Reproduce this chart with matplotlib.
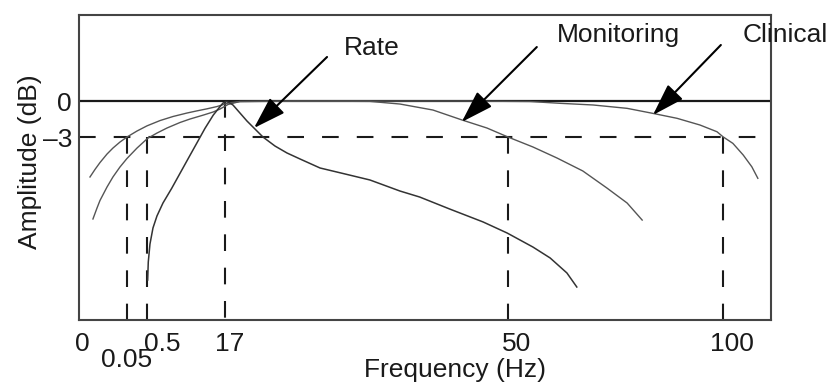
import numpy as np
import matplotlib
matplotlib.use("Agg")
import matplotlib.pyplot as plt

plt.rcParams['font.family'] = ['Liberation Sans', 'DejaVu Sans']
plt.rcParams['lines.scale_dashes'] = False

# schematic (non-linear) frequency axis: Hz -> position
freq_knots = [-1, 0, 0.05, 0.5, 17, 50, 100, 200]
pos_knots = [-818, 82, 127, 147.5, 225, 508, 723, 1153]

# filter responses (Hz, dB)
clinical_f = [0.0089, 0.0144, 0.02, 0.0278, 0.0344, 0.0422, 0.05, 0.27, 0.489,
              3.16, 5.93, 8.91, 11.04, 13.17, 15.3, 16.36, 17.35, 18.75, 30, 45,
              55.1, 62.1, 69.8, 77.7, 83.7, 89.3, 94.65, 98.6, 100, 102.3, 104.7,
              106.7, 108.1]
clinical_db = [-6.33, -5.71, -5.13, -4.42, -3.92, -3.42, -3.0, -2.5, -2.07,
               -1.63, -1.29, -1.0, -0.82, -0.65, -0.46, -0.33, -0.17, -0.04, 0, 0,
               -0.04, -0.19, -0.33, -0.61, -1.03, -1.44, -2.0, -2.56, -2.98, -3.53, -4.5,
               -5.48, -6.44]

monitoring_f = [0.0122, 0.0167, 0.02, 0.0278, 0.0344, 0.0422, 0.05, 0.27, 0.5,
                2.52, 4.65, 7.42, 9.55, 12.32, 14.44, 15.93, 17.35, 18.75, 25, 33.9,
                37.4, 41.25, 44.64, 47.55, 50, 55.8, 61.4, 67.4, 73.0, 77.7, 81.2]
monitoring_db = [-9.83, -8.92, -8.29, -7.17, -6.33, -5.5, -4.79, -3.92, -3.12,
                 -2.67, -2.25, -1.79, -1.5, -1.18, -0.92, -0.67, -0.29, -0.04, 0, -0.03,
                 -0.25, -0.75, -1.58, -2.25, -3.0, -3.83, -4.75, -5.83, -7.25, -8.5, -9.92]

rate_f = [0.54, 0.67, 1.03, 1.67, 2.52, 3.8, 5.65, 7.42, 9.19, 10.97, 12.74,
          14.51, 15.93, 16.57, 17.17, 17.58, 17.93, 18.75, 19.57, 20.27, 21.43,
          22.83, 24.23, 25.75, 28.08, 31.0, 33.9, 37.4, 39.7, 43.2, 47.1, 49.9,
          55.8, 59.8, 63.7, 66.0]
rate_db = [-14.92, -13.42, -11.92, -10.58, -9.58, -8.5, -7.28, -6.03, -4.78,
           -3.53, -2.28, -1.17, -0.47, -0.17, -0.04, -0.17, -0.33, -1.0, -1.67,
           -2.17, -3.0, -3.75, -4.33, -4.83, -5.58, -6.08, -6.58, -7.5, -8.0, -9.0,
           -10.08, -11.0, -12.17, -13.08, -14.33, -15.5]

# cutoff markers
cut_f = [0.05, 0.5, 17, 50, 100]
cut_top = [-3, -3, 0, -3, -3]

tick_f = [0, 0.05, 0.5, 17, 50, 100]
tick_txt = ['0', '0.05', '0.5', '17', '50', '100']
tick_dx = [0, 0, 15, 5, 9, 9]
tick_dy = [-12, -28, -12, -12, -12, -12]

names = ['Rate', 'Monitoring', 'Clinical']
arrow_tip = [(20.38, -2.25), (44.6, -1.75), (83.7, -1.17)]
arrow_tail = [(28.9, 3.67), (56.7, 4.5), (99.5, 4.67)]
name_pos = [(34.1, 4.42), (75.6, 5.5), (114.4, 5.5)]


def fwd(f):
    return np.interp(f, freq_knots, pos_knots)


def inv(p):
    return np.interp(p, pos_knots, freq_knots)


fig = plt.figure(figsize=(8.3, 3.92), dpi=100)
ax = fig.add_axes([79 / 830, 72 / 392, 692 / 830, 305 / 392])
ax.set_xscale('function', functions=(fwd, inv))
ax.set_xlim(-0.0033, 111.16)
ax.set_ylim(-18.25, 7.17)

ink = '#1a1a1a'
ax.axhline(0, color=ink, lw=1.6, zorder=2)
ax.axhline(-3, xmin=0, xmax=0.98, color=ink, lw=1.5, ls=(0, (12, 13)))
for f, top in zip(cut_f, cut_top):
    ax.plot([f, f], [top, -18.25], color=ink, lw=1.5, ls=(0, (12, 12)), clip_on=False)

ax.plot(clinical_f, clinical_db, color='#555555', lw=1.0, zorder=3)
ax.plot(monitoring_f, monitoring_db, color='#555555', lw=1.0, zorder=3)
ax.plot(rate_f, rate_db, color='#333333', lw=1.1, zorder=3)

for tip, tail, pos, name in zip(arrow_tip, arrow_tail, name_pos, names):
    ax.annotate('', xy=tip, xytext=tail,
                arrowprops=dict(arrowstyle='-|>,head_length=1.0,head_width=0.32',
                                mutation_scale=20, color='black', lw=1.5,
                                shrinkA=0, shrinkB=0), zorder=5)
    ax.text(pos[0], pos[1], name, fontsize=19, ha='center', va='center', color=ink)

ax.set_xticks([])
for f, t, dx, dy in zip(tick_f, tick_txt, tick_dx, tick_dy):
    ax.annotate(t, xy=(f, 0), xycoords=('data', 'axes fraction'),
                xytext=(dx, dy), textcoords='offset pixels',
                ha='center', va='top', fontsize=19, color=ink, annotation_clip=False)

ax.set_yticks([0, -3])
ax.set_yticklabels(['0', '\u20133'])
ax.tick_params(axis='y', direction='in', length=6, width=1.2, pad=5,
               labelsize=19, colors=ink)

for s in ax.spines.values():
    s.set_linewidth(1.5)
    s.set_color('#444444')

ax.set_xlabel('Frequency (Hz)', fontsize=19, color=ink)
ax.xaxis.set_label_coords((455 - 79) / 692, -0.125)
ax.xaxis.label.set_va('top')
ax.set_ylabel('Amplitude (dB)', fontsize=19, color=ink)
ax.yaxis.set_label_coords(-0.0535, 0.518)

fig.savefig('out.png', dpi=100)
